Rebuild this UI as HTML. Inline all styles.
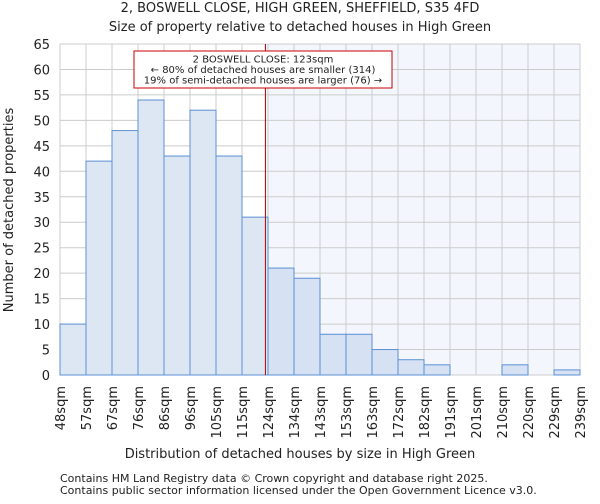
<!DOCTYPE html>
<html><head><meta charset="utf-8"><style>
body{margin:0;background:#fff;font-family:"DejaVu Sans","Liberation Sans",sans-serif}
svg text{font-family:"DejaVu Sans","Liberation Sans",sans-serif;fill:#222}
</style></head><body>
<svg id="chart" width="600" height="500">
<text x="300" y="12" font-size="13" text-anchor="middle">2, BOSWELL CLOSE, HIGH GREEN, SHEFFIELD, S35 4FD</text>
<text x="300" y="31" font-size="13" text-anchor="middle">Size of property relative to detached houses in High Green</text>
<g id="plot"></g>
<text x="300" y="458" font-size="13" text-anchor="middle">Distribution of detached houses by size in High Green</text>
<text transform="translate(13,210) rotate(-90)" font-size="13" text-anchor="middle">Number of detached properties</text>
<text x="60" y="482" font-size="11" fill="#444">Contains HM Land Registry data © Crown copyright and database right 2025.</text>
<text x="60" y="494" font-size="11" fill="#444">Contains public sector information licensed under the Open Government Licence v3.0.</text>
</svg>
<script>
const binLabels=["48sqm","57sqm","67sqm","76sqm","86sqm","96sqm","105sqm","115sqm","124sqm","134sqm","143sqm","153sqm","163sqm","172sqm","182sqm","191sqm","201sqm","210sqm","220sqm","229sqm","239sqm"];
const counts=[10,42,48,54,43,52,43,31,21,19,8,8,5,3,2,0,0,2,0,1];
const yTicks=[0,5,10,15,20,25,30,35,40,45,50,55,60,65];
const markerBin=7.9;
const NS="http://www.w3.org/2000/svg";
const g=document.getElementById('plot');
const X0=60,X1=580,Y0=375,Y1=44,YMAX=65;
const bw=(X1-X0)/counts.length;
const xs=i=>X0+i*bw;
const ys=v=>Y0-(v/YMAX)*(Y0-Y1);
function el(t,a){const e=document.createElementNS(NS,t);for(const k in a)e.setAttribute(k,a[k]);g.appendChild(e);return e;}
const mx=xs(markerBin);
let r=el('rect',{x:mx,y:Y1,width:X1-mx,height:Y0-Y1,fill:'#f3f6fc'});


yTicks.forEach(v=>{
 let l=el('line',{x1:X0,x2:X1,y1:ys(v),y2:ys(v),stroke:'#cccccc'});
 
 
 let t=el('text',{x:X0-10,y:ys(v)+5,'font-size':13,'text-anchor':'end'});t.textContent=v;
 
 
});
binLabels.forEach((s,i)=>{
 let l=el('line',{x1:xs(i),x2:xs(i),y1:Y1,y2:Y0,stroke:'#cccccc'});
 
 
 let t=el('text',{'font-size':13,'text-anchor':'end',transform:`translate(${xs(i)+5},386) rotate(-90)`});t.textContent=s;
 
 
});
counts.forEach((c,i)=>{
 if(c<=0)return;
 let b=el('rect',{x:xs(i),y:ys(c),width:bw,height:Y0-ys(c),fill:i>=8?'#d6e2f3':'#dde7f4',stroke:'#5b8fd6','stroke-width':1});
 
 
});
let ml=el('line',{x1:mx,x2:mx,y1:Y1,y2:Y0,stroke:'#aa0000','stroke-width':1});


let box=el('rect',{x:134,y:51,width:258,height:37,fill:'#fff',stroke:'#cc0000'});


["2 BOSWELL CLOSE: 123sqm","← 80% of detached houses are smaller (314)","19% of semi-detached houses are larger (76) →"].forEach((s,i)=>{
 let t=el('text',{x:263,y:62.5+i*10.5,'font-size':10,'text-anchor':'middle'});t.textContent=s;
 
 
});
</script>
</body></html>
